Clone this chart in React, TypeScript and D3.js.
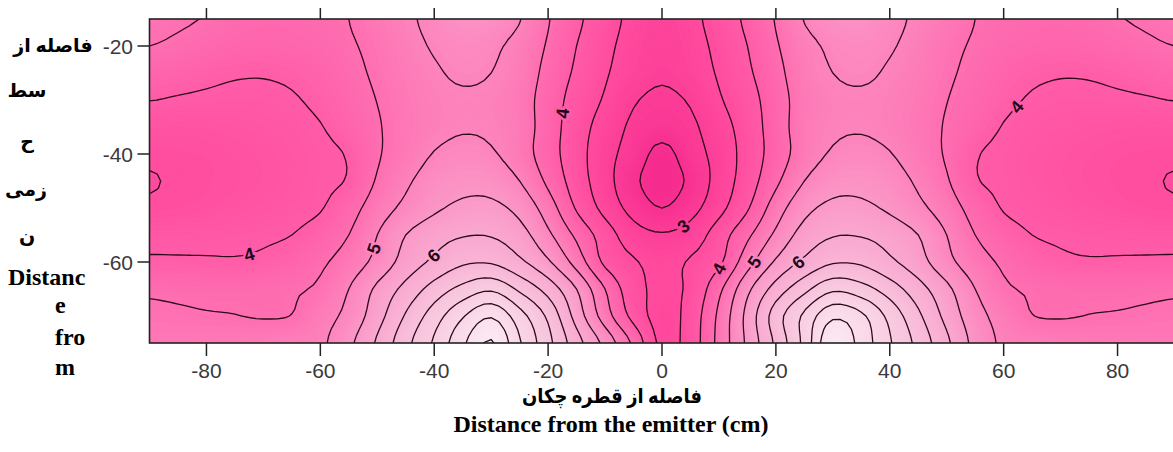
import React, { useMemo } from 'react';
import * as d3 from 'd3';

// grid of the map, in cm
const gridX = [-90, -85, -80, -75, -70, -65, -60, -55, -50, -45, -40, -35, -30, -25, -20, -15, -10, -5, 0,
  5, 10, 15, 20, 25, 30, 35, 40, 45, 50, 55, 60, 65, 70, 75, 80, 85, 90];
const gridDepth = [-15, -20, -25, -30, -35, -40, -45, -50, -55, -60, -65, -70, -75];

// values, one row per depth (top to bottom), columns follow gridX
const moisture = [
  [4.62, 4.55, 4.48, 4.38, 4.32, 4.33, 4.40, 4.50, 4.72, 4.92, 5.12, 5.30, 5.25, 5.02, 4.53, 4.10, 3.70, 3.38, 3.20, 3.38, 3.70, 4.10, 4.53, 5.02, 5.25, 5.30, 5.12, 4.92, 4.72, 4.50, 4.40, 4.33, 4.32, 4.38, 4.48, 4.55, 4.62],
  [4.50, 4.42, 4.33, 4.25, 4.22, 4.25, 4.32, 4.45, 4.62, 4.85, 5.04, 5.15, 5.08, 4.85, 4.45, 4.00, 3.62, 3.32, 3.15, 3.32, 3.62, 4.00, 4.45, 4.85, 5.08, 5.15, 5.04, 4.85, 4.62, 4.45, 4.32, 4.25, 4.22, 4.25, 4.33, 4.42, 4.50],
  [4.25, 4.18, 4.10, 4.04, 4.03, 4.08, 4.20, 4.38, 4.57, 4.78, 4.95, 5.06, 5.00, 4.80, 4.35, 3.92, 3.55, 3.25, 3.07, 3.25, 3.55, 3.92, 4.35, 4.80, 5.00, 5.06, 4.95, 4.78, 4.57, 4.38, 4.20, 4.08, 4.03, 4.04, 4.10, 4.18, 4.25],
  [4.01, 3.96, 3.93, 3.91, 3.91, 3.96, 4.10, 4.30, 4.51, 4.72, 4.88, 4.95, 4.91, 4.72, 4.27, 3.80, 3.45, 3.05, 2.90, 3.05, 3.45, 3.80, 4.27, 4.72, 4.91, 4.95, 4.88, 4.72, 4.51, 4.30, 4.10, 3.96, 3.91, 3.91, 3.93, 3.96, 4.01],
  [3.72, 3.70, 3.72, 3.75, 3.80, 3.87, 3.98, 4.20, 4.46, 4.70, 4.88, 4.97, 4.93, 4.75, 4.25, 3.72, 3.30, 2.90, 2.72, 2.90, 3.30, 3.72, 4.25, 4.75, 4.93, 4.97, 4.88, 4.70, 4.46, 4.20, 3.98, 3.87, 3.80, 3.75, 3.72, 3.70, 3.72],
  [3.57, 3.59, 3.61, 3.66, 3.72, 3.80, 3.91, 4.04, 4.45, 4.75, 5.02, 5.12, 5.05, 4.75, 4.22, 3.70, 3.18, 2.78, 2.36, 2.78, 3.18, 3.70, 4.22, 4.75, 5.05, 5.12, 5.02, 4.75, 4.45, 4.04, 3.91, 3.80, 3.72, 3.66, 3.61, 3.59, 3.57],
  [3.48, 3.54, 3.59, 3.64, 3.71, 3.80, 3.92, 4.04, 4.55, 4.92, 5.22, 5.35, 5.30, 5.00, 4.40, 3.75, 3.20, 2.60, 2.30, 2.60, 3.20, 3.75, 4.40, 5.00, 5.30, 5.35, 5.22, 4.92, 4.55, 4.04, 3.92, 3.80, 3.71, 3.64, 3.59, 3.54, 3.48],
  [3.57, 3.60, 3.65, 3.71, 3.78, 3.87, 3.97, 4.30, 4.75, 5.12, 5.42, 5.60, 5.62, 5.35, 4.75, 3.95, 3.35, 2.82, 2.50, 2.82, 3.35, 3.95, 4.75, 5.35, 5.62, 5.60, 5.42, 5.12, 4.75, 4.30, 3.97, 3.87, 3.78, 3.71, 3.65, 3.60, 3.57],
  [3.85, 3.86, 3.88, 3.90, 3.94, 4.00, 4.20, 4.50, 5.00, 5.50, 5.80, 5.97, 5.97, 5.70, 5.10, 4.40, 3.75, 3.22, 3.05, 3.22, 3.75, 4.40, 5.10, 5.70, 5.97, 5.97, 5.80, 5.50, 5.00, 4.50, 4.20, 4.00, 3.94, 3.90, 3.88, 3.86, 3.85],
  [4.07, 4.06, 4.05, 4.04, 4.08, 4.20, 4.42, 4.72, 5.15, 5.70, 6.10, 6.42, 6.45, 6.10, 5.57, 4.80, 3.90, 3.55, 3.35, 3.55, 3.90, 4.80, 5.57, 6.10, 6.45, 6.42, 6.10, 5.70, 5.15, 4.72, 4.42, 4.20, 4.08, 4.04, 4.05, 4.06, 4.07],
  [4.43, 4.40, 4.38, 4.38, 4.40, 4.45, 4.58, 5.00, 5.60, 6.15, 6.70, 7.15, 7.42, 6.90, 6.30, 5.50, 4.50, 3.68, 3.42, 3.60, 4.38, 5.38, 6.20, 6.85, 7.40, 7.20, 6.75, 6.20, 5.62, 5.00, 4.58, 4.45, 4.40, 4.38, 4.38, 4.40, 4.43],
  [4.58, 4.56, 4.53, 4.51, 4.47, 4.51, 4.80, 5.15, 5.80, 6.55, 7.25, 7.95, 8.45, 7.70, 6.90, 5.80, 4.75, 3.85, 3.32, 3.70, 4.60, 5.65, 6.75, 7.60, 8.40, 8.10, 7.35, 6.60, 5.85, 5.20, 4.80, 4.51, 4.47, 4.51, 4.53, 4.56, 4.58],
  [4.68, 4.70, 4.72, 4.74, 4.78, 4.85, 4.92, 5.39, 6.07, 6.85, 7.57, 8.40, 9.05, 8.05, 7.15, 6.20, 5.35, 4.40, 3.38, 3.72, 4.65, 5.60, 6.60, 7.65, 8.95, 8.30, 7.55, 6.85, 6.10, 5.35, 4.92, 4.85, 4.78, 4.74, 4.72, 4.70, 4.68],
];

const contourLevels = [2.5, 3, 3.5, 4, 4.5, 5, 5.5, 6, 6.5, 7, 7.5, 8, 8.5, 9];
const xTicks = [-80, -60, -40, -20, 0, 20, 40, 60, 80];
const yTicks = [-20, -40, -60];

// where the numbers sit on the lines
const contourLabels = [
  { level: 4, x: -72.5, y: -59.2 },
  { level: 5, x: -51, y: -56.8 },
  { level: 6, x: -41, y: -58.3 },
  { level: 4, x: -18.5, y: -32.6 },
  { level: 3, x: 3.5, y: -52 },
  { level: 4, x: 11, y: -62 },
  { level: 5, x: 19, y: -62 },
  { level: 6, x: 27, y: -64 },
  { level: 4, x: 61.8, y: -31.3 },
];

const yTitleFa = ['فاصله از', 'سط', 'ح', 'زمی', 'ن'];
const yTitleEn = ['Distanc', 'e', 'fro', 'm'];
const xTitleFa = 'فاصله از قطره چکان';
const xTitleEn = 'Distance from the emitter (cm)';

const UP = 4; // smoothing factor for drawing

const catmull = (p0: number, p1: number, p2: number, p3: number, t: number) =>
  0.5 * (2 * p1 + (-p0 + p2) * t + (2 * p0 - 5 * p1 + 4 * p2 - p3) * t * t + (-p0 + 3 * p1 - 3 * p2 + p3) * t * t * t);

function refine(grid: number[][]) {
  const ny = grid.length, nx = grid[0].length;
  const fx = (nx - 1) * UP + 1, fy = (ny - 1) * UP + 1;
  const at = (j: number, i: number) => grid[Math.max(0, Math.min(ny - 1, j))][Math.max(0, Math.min(nx - 1, i))];
  const values = new Array(fx * fy);
  for (let b = 0; b < fy; b++) {
    const v = b / UP;
    const j = Math.min(Math.floor(v), ny - 2);
    const tv = v - j;
    for (let a = 0; a < fx; a++) {
      const u = a / UP;
      const i = Math.min(Math.floor(u), nx - 2);
      const tu = u - i;
      const col = [-1, 0, 1, 2].map(dj => catmull(at(j + dj, i - 1), at(j + dj, i), at(j + dj, i + 1), at(j + dj, i + 2), tu));
      values[b * fx + a] = catmull(col[0], col[1], col[2], col[3], tv);
    }
  }
  return { values, fx, fy };
}

const color = d3.scaleLinear<string>()
  .domain([2.3, 3, 3.5, 4, 4.5, 5, 5.5, 6, 7, 8, 9])
  .range(['#f52b8e', '#fc3e98', '#ff4c9f', '#ff5ca8', '#fe6fb1', '#fd84bd', '#fb98c8', '#f9a9d0', '#f8c2dc', '#f9d6e7', '#fbe9f2'])
  .interpolate(d3.interpolateRgb)
  .clamp(true);

const W = 1173, H = 452;
const x = d3.scaleLinear().domain([-90, 90]).range([149.5, 1174.5]);
const y = d3.scaleLinear().domain([-15, -75]).range([19, 343]);

export default function App() {
  const chart = useMemo(() => {
    const { values, fx, fy } = refine(moisture);
    const x0 = gridX[0], x1 = gridX[gridX.length - 1];
    const d0 = gridDepth[0], d1 = gridDepth[gridDepth.length - 1];
    const px = (c: number) => x(x0 + (c - 0.5) * (x1 - x0) / (fx - 1));
    const py = (c: number) => y(d0 + (c - 0.5) * (d1 - d0) / (fy - 1));
    const toPath = (mp: any) => mp.coordinates.map((poly: number[][][]) => poly.map(ring =>
      'M' + ring.map(([cx, cy]) => `${px(cx).toFixed(2)},${py(cy).toFixed(2)}`).join('L') + 'Z').join('')).join('');

    const gen = d3.contours().size([fx, fy]);
    const fillSteps = d3.range(2.2, 9.35, 0.05);
    const fills = gen.thresholds(fillSteps)(values).map(c => ({ d: toPath(c), fill: color(c.value + 0.025) }));
    const lines = gen.thresholds(contourLevels)(values).map(c => ({ d: toPath(c), value: c.value }));

    const labels = contourLabels.map(lb => {
      const mp = d3.contours().size([fx, fy]).thresholds([lb.level])(values)[0];
      const tx = x(lb.x), ty = y(lb.y);
      let best: any = null;
      mp.coordinates.forEach((poly: number[][][]) => poly.forEach(ring => {
        const pts = ring.map(([cx, cy]) => [px(cx), py(cy)]);
        pts.forEach((p, i) => {
          if (p[0] < 152 || p[1] < 22 || p[1] > 340) return;
          const dist = Math.hypot(p[0] - tx, p[1] - ty);
          if (!best || dist < best.dist) best = { dist, pts, i };
        });
      }));
      if (!best) return { ...lb, sx: tx, sy: ty, angle: 0 };
      const n = best.pts.length;
      const a = best.pts[(best.i - 3 + n) % n], b = best.pts[(best.i + 3) % n];
      let angle = Math.atan2(b[1] - a[1], b[0] - a[0]) * 180 / Math.PI;
      if (angle > 90) angle -= 180;
      if (angle < -90) angle += 180;
      return { ...lb, sx: best.pts[best.i][0], sy: best.pts[best.i][1], angle };
    });
    return { fills, lines, labels };
  }, []);

  const serif = "'Liberation Serif', 'Times New Roman', 'DejaVu Sans', serif";
  const sans = "'Liberation Sans', Arial, sans-serif";

  return (
    <svg width={W} height={H} style={{ position: 'absolute', left: 0, top: 0, background: '#fff' }}>
      <defs>
        <clipPath id="plotArea">
          <rect x={x(-90)} y={y(-15)} width={x(90) - x(-90)} height={y(-75) - y(-15)} />
        </clipPath>
      </defs>
      <g clipPath="url(#plotArea)">
        {chart.fills.map((f, i) => <path key={i} d={f.d} fill={f.fill} stroke={f.fill} strokeWidth={0.4} fillRule="evenodd" />)}
        {chart.lines.map((l, i) => <path key={'l' + i} d={l.d} fill="none" stroke="#2e0a1c" strokeWidth={1.3} />)}
        {chart.labels.map((lb, i) => (
          <text key={'t' + i} x={lb.sx} y={lb.sy} transform={`rotate(${lb.angle},${lb.sx},${lb.sy})`}
            textAnchor="middle" dy="0.36em" fontFamily={sans} fontWeight="bold" fontSize={18}
            fill="#24061a" stroke={color(lb.level)} strokeWidth={5} paintOrder="stroke">{lb.level}</text>
        ))}
      </g>
      <rect x={x(-90)} y={y(-15)} width={x(90) - x(-90)} height={y(-75) - y(-15)} fill="none" stroke="#222" strokeWidth={1.6} />
      {xTicks.map(t => (
        <g key={'x' + t}>
          <line x1={x(t)} x2={x(t)} y1={y(-75)} y2={y(-75) + 13} stroke="#222" strokeWidth={1.5} />
          <line x1={x(t)} x2={x(t)} y1={y(-15)} y2={y(-15) - 11} stroke="#222" strokeWidth={1.5} />
          <text x={x(t)} y={378} textAnchor="middle" fontFamily={sans} fontSize={21} fill="#3a3a3a">{t}</text>
        </g>
      ))}
      {yTicks.map(t => (
        <g key={'y' + t}>
          <line x1={x(-90) - 12} x2={x(-90)} y1={y(t)} y2={y(t)} stroke="#222" strokeWidth={1.5} />
          <text x={133} y={y(t)} dy="0.36em" textAnchor="end" fontFamily={sans} fontSize={21} fill="#3a3a3a">{t}</text>
        </g>
      ))}
      <g fontFamily={serif} fontWeight="bold" fill="#000">
        {yTitleFa.map((s, i) => (
          <text key={'fa' + i} x={[53, 27, 27, 26, 27][i]} y={[52, 97, 148, 196, 243][i]} textAnchor="middle" fontSize={19} direction="rtl">{s}</text>
        ))}
        {yTitleEn.map((s, i) => (
          <text key={'en' + i} x={i === 0 ? 8 : 55} y={[285, 313, 345, 375][i]} fontSize={24}>{s}</text>
        ))}
        <text x={612} y={403} textAnchor="middle" fontSize={20} direction="rtl" textLength={180} lengthAdjust="spacingAndGlyphs">{xTitleFa}</text>
        <text x={611} y={432} textAnchor="middle" fontSize={24}>{xTitleEn}</text>
      </g>
    </svg>
  );
}
